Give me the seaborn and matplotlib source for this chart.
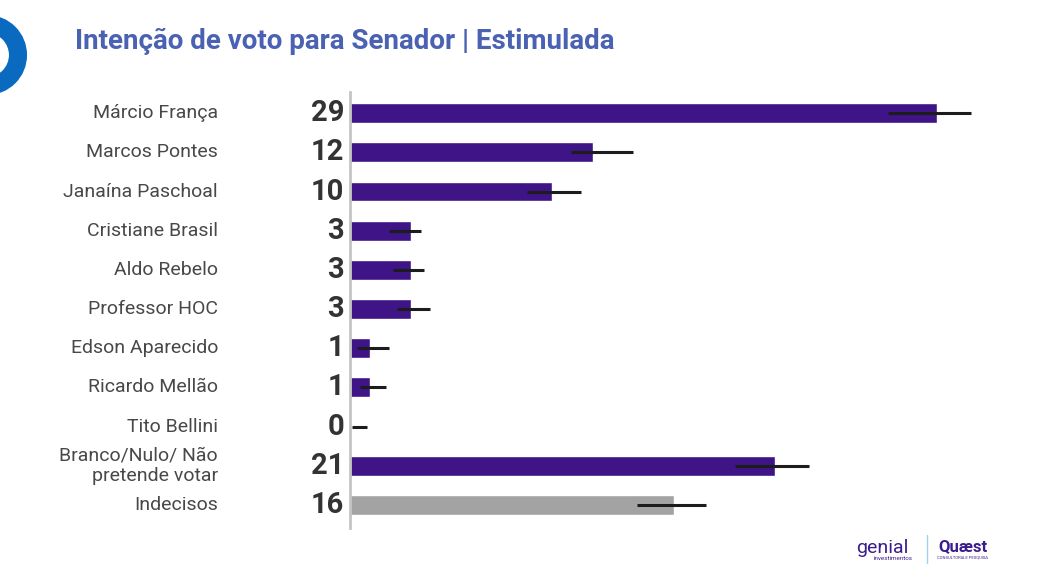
import matplotlib
matplotlib.use("Agg")
import matplotlib.pyplot as plt
import seaborn as sns
import pandas as pd
import numpy as np
from matplotlib.patches import Circle
from matplotlib.lines import Line2D
import matplotlib.transforms as mtransforms

candidates = ["Márcio França", "Marcos Pontes", "Janaína Paschoal", "Cristiane Brasil",
              "Aldo Rebelo", "Professor HOC", "Edson Aparecido", "Ricardo Mellão",
              "Tito Bellini", "Branco/Nulo/ Não\npretende votar", "Indecisos"]
values = [29, 12, 10, 3, 3, 3, 1, 1, 0, 21, 16]
err_low = [26.6, 10.9, 8.75, 1.95, 2.1, 2.3, 0.35, 0.5, 0.1, 19.0, 14.2]
err_high = [30.7, 14.0, 11.4, 3.5, 3.65, 3.95, 1.93, 1.78, 0.84, 22.7, 17.6]
bar_colors = ["#3e1487"] * 10 + ["#a3a3a3"]

sns.set_theme(style="white")
plt.rcParams["font.family"] = ["Roboto", "DejaVu Sans"]

df = pd.DataFrame({"cand": candidates, "val": values})

fig = plt.figure(figsize=(10.4, 5.75), dpi=100)
ax = fig.add_axes([350 / 1040, 1 - 528 / 575, 650 / 1040, (528 - 92) / 575])

sns.barplot(data=df, x="val", y="cand", hue="cand", palette=bar_colors,
            legend=False, width=0.51, ax=ax, orient="h", saturation=1)

ypos = np.arange(len(candidates))
ax.hlines(ypos, err_low, err_high, color="#1c1c1c", lw=2.2, zorder=5)

ax.set_xlim(0, 650 / 20.24)
ax.set_ylim(10.59, -0.54)
ax.set_xlabel("")
ax.set_ylabel("")
ax.set_xticks([])
ax.set_yticks([])
for s in ["top", "right", "bottom"]:
    ax.spines[s].set_visible(False)
ax.spines["left"].set_color("#c4c4c4")
ax.spines["left"].set_linewidth(2)

trans = mtransforms.blended_transform_factory(ax.transAxes, ax.transData)
for i, (c, v) in enumerate(zip(candidates, values)):
    ax.text(-(350 - 218) / 650, i, c, transform=trans, ha="right", va="center",
            fontsize=14, fontweight="normal", color="#484848", linespacing=1.15)
    ax.text(-(350 - 344) / 650, i, str(v), transform=trans, ha="right", va="center",
            fontsize=21, fontweight="bold", color="#333333")

fig.text(75 / 1040, 1 - 41 / 575, "Intenção de voto para Senador | Estimulada",
         fontsize=20, fontweight="bold", color="#4b62b3", va="center", ha="left")

# logo ring at top-left
fig.add_artist(Circle((-0.13, 5.2), 0.31, transform=fig.dpi_scale_trans,
                      fill=False, lw=13, edgecolor="#0a6ac0"))

# bottom-right logos
fig.text(856 / 1040, 1 - 548 / 575, "genial", fontsize=14, color="#3a1c8c",
         ha="left", va="center")
fig.text(874 / 1040, 1 - 559 / 575, "investimentos", fontsize=4.5, color="#3a1c8c",
         ha="left", va="center")
fig.add_artist(Line2D([927 / 1040, 927 / 1040], [1 - 535 / 575, 1 - 563 / 575],
                      transform=fig.transFigure, color="#9fd3e8", lw=1))
fig.text(938 / 1040, 1 - 547 / 575, "Quæst", fontsize=12, fontweight="bold",
         color="#3a1c8c", ha="left", va="center")
fig.text(937 / 1040, 1 - 558 / 575, "CONSULTORIA E PESQUISA", fontsize=3,
         color="#3a1c8c", ha="left", va="center")

fig.savefig("out.png", dpi=100)
